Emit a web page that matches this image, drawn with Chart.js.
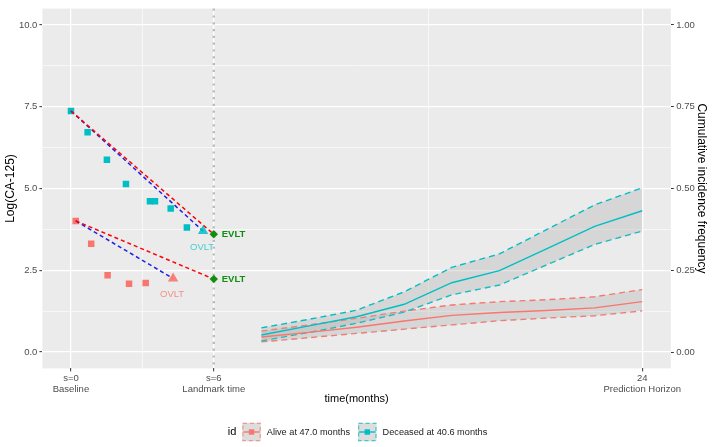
<!DOCTYPE html>
<html><head><meta charset="utf-8">
<script src="https://cdn.jsdelivr.net/npm/chart.js@4.4.1/dist/chart.umd.min.js"></script>
<style>html,body{margin:0;padding:0;background:#fff;}#wrap{width:712px;height:447px;}</style>
</head><body><div id="wrap"><canvas id="c" width="712" height="447"></canvas></div>
<script>
// ---------- data ----------
const seriesNames = ['Alive at 47.0 months', 'Deceased at 40.6 months'];
const legendTitle = 'id';
const landmarkTime = 6;

// observed log(CA-125) before landmark
const deceasedObsTime = [0.0, 0.70, 1.51, 2.31, 3.32, 3.53, 4.19, 4.87];
const deceasedObsLog  = [7.37, 6.72, 5.88, 5.14, 4.61, 4.61, 4.39, 3.81];
const aliveObsTime = [0.20, 0.85, 1.54, 2.44, 3.14];
const aliveObsLog  = [4.01, 3.31, 2.35, 2.09, 2.11];

// OVLT (observed last value) and EVLT (expected value at landmark): [alive, deceased]
const ovltTime = [4.29, 5.55];
const ovltLog  = [2.25, 3.70];
const evltLog  = [2.23, 3.60];

// predicted cumulative incidence after landmark
const predTime = [8, 10, 12, 14, 16, 18, 20, 22, 24];
const aliveCif   = [0.046, 0.060, 0.076, 0.095, 0.112, 0.121, 0.127, 0.135, 0.154];
const aliveUpper = [0.064, 0.083, 0.103, 0.125, 0.144, 0.154, 0.160, 0.169, 0.191];
const aliveLower = [0.031, 0.044, 0.057, 0.070, 0.083, 0.096, 0.104, 0.111, 0.126];
const deceasedCif   = [0.052, 0.080, 0.108, 0.146, 0.212, 0.249, 0.316, 0.384, 0.432];
const deceasedUpper = [0.074, 0.100, 0.128, 0.184, 0.259, 0.300, 0.375, 0.450, 0.502];
const deceasedLower = [0.034, 0.060, 0.088, 0.122, 0.175, 0.205, 0.267, 0.329, 0.370];

// axes
const xBreaks = [0, 6, 24];
const xBreakLabels = [['s=0', 'Baseline'], ['s=6', 'Landmark time'], ['24', 'Prediction Horizon']];
const xMinor = [3, 15];
const yBreaks = [0, 2.5, 5, 7.5, 10];
const yMinor = [1.25, 3.75, 6.25, 8.75];
const y2Breaks = [0, 0.25, 0.5, 0.75, 1];

// ---------- style ----------
const FONT = '"Liberation Sans", Arial, Helvetica, sans-serif';
const RED_S = '#F8766D', CYAN_S = '#00BFC4';
const SERIES_COL = [RED_S, CYAN_S];
const RIB = 'rgba(170,170,170,0.32)';
const PANEL_BG = '#EBEBEB';
const GREEN = '#0E8F0E';
Chart.defaults.font.family = FONT;

const xy = (xs, ys) => xs.map((x, i) => ({x: x, y: ys[i]}));
const two = (x0, y0, x1, y1) => [{x: x0, y: y0}, {x: x1, y: y1}];

const ci = (col, data, fill, order) => ({data, yAxisID: 'y2', borderColor: col, borderWidth: 1.4,
  borderDash: [6, 4], pointRadius: 0, fill: fill, backgroundColor: RIB, order});
const mid = (col, data, order) => ({data, yAxisID: 'y2', borderColor: col, borderWidth: 1.4, pointRadius: 0, fill: false, order});
const pts = (col, data, style, r, order) => ({data, yAxisID: 'y', showLine: false, pointStyle: style,
  pointRadius: r, pointBackgroundColor: col, pointBorderWidth: 0, borderColor: col, order});
const proj = (col, data, order) => ({data, yAxisID: 'y', borderColor: col, borderWidth: 1.5, borderDash: [4, 3],
  pointRadius: 0, fill: false, order});

const datasets = [
  ci(CYAN_S, xy(predTime, deceasedUpper), '+1', 30),
  ci(CYAN_S, xy(predTime, deceasedLower), false, 30),
  mid(CYAN_S, xy(predTime, deceasedCif), 25),
  ci(RED_S, xy(predTime, aliveUpper), '+1', 30),
  ci(RED_S, xy(predTime, aliveLower), false, 30),
  mid(RED_S, xy(predTime, aliveCif), 25),
  pts(CYAN_S, xy(deceasedObsTime, deceasedObsLog), 'rect', 4.6, 20),
  pts(RED_S, xy(aliveObsTime, aliveObsLog), 'rect', 4.6, 20),
  proj('#FF0000', two(deceasedObsTime[0], deceasedObsLog[0], landmarkTime, evltLog[1]), 15),
  proj('#1F1FE6', two(deceasedObsTime[0], deceasedObsLog[0], ovltTime[1], ovltLog[1]), 15),
  proj('#FF0000', two(aliveObsTime[0], aliveObsLog[0], landmarkTime, evltLog[0]), 15),
  proj('#1F1FE6', two(aliveObsTime[0], aliveObsLog[0], ovltTime[0], ovltLog[0]), 15),
  pts('rgba(0,191,196,0.85)', xy([ovltTime[1]], [ovltLog[1]]), 'triangle', 6, 10),
  pts('rgba(248,118,109,0.9)', xy([ovltTime[0]], [ovltLog[0]]), 'triangle', 6, 10),
  pts(GREEN, xy([landmarkTime, landmarkTime], evltLog), 'rectRot', 4.2, 5)
];

const isIn = (arr, v) => arr.some(a => Math.abs(a - v) < 1e-9);

const decor = {
  id: 'decor',
  beforeDraw(chart) {
    const {ctx, chartArea: a} = chart;
    ctx.save(); ctx.fillStyle = PANEL_BG;
    ctx.fillRect(a.left, a.top, a.right - a.left, a.bottom - a.top); ctx.restore();
  },
  beforeDatasetsDraw(chart) {
    const {ctx, chartArea: a, scales} = chart;
    const px = scales.x.getPixelForValue(landmarkTime);
    ctx.save(); ctx.strokeStyle = '#B8B8B8'; ctx.lineWidth = 2.2; ctx.setLineDash([2.2, 4.6]);
    ctx.beginPath(); ctx.moveTo(px, a.top); ctx.lineTo(px, a.bottom); ctx.stroke(); ctx.restore();
  },
  afterDatasetsDraw(chart) {
    const {ctx, scales} = chart;
    const X = scales.x, Y = scales.y;
    ctx.save();
    ctx.textBaseline = 'middle';
    const ovCol = ['rgba(248,118,109,0.8)', 'rgba(0,191,196,0.7)'];
    ctx.font = '9.5px ' + FONT; ctx.textAlign = 'center';
    for (let i = 0; i < 2; i++) {
      ctx.fillStyle = ovCol[i];
      ctx.fillText('OVLT', X.getPixelForValue(ovltTime[i]) - 1, Y.getPixelForValue(ovltLog[i]) + 16);
    }
    ctx.font = 'bold 9.5px ' + FONT; ctx.textAlign = 'left'; ctx.fillStyle = GREEN;
    for (let i = 0; i < 2; i++) {
      ctx.fillText('EVLT', X.getPixelForValue(landmarkTime) + 8, Y.getPixelForValue(evltLog[i]));
    }
    ctx.restore();
  },
  afterDraw(chart) {
    const ctx = chart.ctx;
    ctx.save();
    ctx.textBaseline = 'middle'; ctx.textAlign = 'left';
    const cy = 432, key = 18.5;
    ctx.font = '11px ' + FONT;
    const wT = ctx.measureText(legendTitle).width;
    ctx.font = '9.2px ' + FONT;
    const wL = seriesNames.map(s => ctx.measureText(s).width);
    const total = wT + 6 + key + 6 + wL[0] + 8 + key + 6 + wL[1];
    let x = 357.5 - total / 2;
    ctx.font = '11px ' + FONT; ctx.fillStyle = '#000';
    ctx.fillText(legendTitle, x, cy); x += wT + 6;
    for (let i = 0; i < 2; i++) {
      const col = SERIES_COL[i];
      ctx.fillStyle = '#DDDDDD';
      ctx.fillRect(x, cy - key / 2, key, key);
      ctx.strokeStyle = col; ctx.globalAlpha = 0.7; ctx.lineWidth = 1.2; ctx.setLineDash([4, 3]);
      ctx.strokeRect(x + 0.6, cy - key / 2 + 0.6, key - 1.2, key - 1.2);
      ctx.globalAlpha = 1; ctx.setLineDash([]);
      ctx.lineWidth = 1.4; ctx.beginPath(); ctx.moveTo(x + 1, cy); ctx.lineTo(x + key - 1, cy); ctx.stroke();
      ctx.fillStyle = col; ctx.fillRect(x + key / 2 - 2.7, cy - 2.7, 5.4, 5.4);
      x += key + 6;
      ctx.font = '9.2px ' + FONT; ctx.fillStyle = '#1A1A1A';
      ctx.fillText(seriesNames[i], x, cy);
      x += wL[i] + 8;
    }
    ctx.restore();
  }
};

new Chart(document.getElementById('c'), {
  type: 'line',
  data: {datasets},
  plugins: [decor],
  options: {
    responsive: false, animation: false, devicePixelRatio: 1, events: [],
    layout: {padding: {top: 8.6, left: 0, right: 0, bottom: 0}},
    plugins: {legend: {display: false}, tooltip: {enabled: false}},
    scales: {
      x: {
        type: 'linear', min: -1.2, max: 25.2,
        afterBuildTicks: s => { s.ticks = [...xBreaks, ...xMinor].sort((a, b) => a - b).map(v => ({value: v})); },
        afterFit: s => { s.height = 78.6; },
        ticks: {autoSkip: false, maxRotation: 0, padding: 1, color: '#4D4D4D', font: {size: 9.5},
          callback: v => { const k = xBreaks.indexOf(v); return k >= 0 ? xBreakLabels[k] : ''; }},
        grid: {color: '#FFFFFF', drawTicks: true, tickLength: 3, tickWidth: 1,
          lineWidth: c => (c.tick && isIn(xMinor, c.tick.value)) ? 0.6 : 1.3,
          tickColor: c => (c.tick && isIn(xMinor, c.tick.value)) ? 'rgba(0,0,0,0)' : '#333333'},
        border: {display: false},
        title: {display: true, text: 'time(months)', color: '#000', font: {size: 11}, padding: {top: 0, bottom: 41.4}}
      },
      y: {
        type: 'linear', position: 'left', min: -0.5, max: 10.5,
        afterBuildTicks: s => { s.ticks = [...yBreaks, ...yMinor].sort((a, b) => a - b).map(v => ({value: v})); },
        afterFit: s => { s.width = 42.4; },
        ticks: {autoSkip: false, padding: 2, color: '#4D4D4D', font: {size: 9.5},
          callback: v => isIn(yBreaks, v) ? v.toFixed(1) : ''},
        grid: {color: '#FFFFFF', drawTicks: true, tickLength: 3, tickWidth: 1,
          lineWidth: c => (c.tick && isIn(yMinor, c.tick.value)) ? 0.6 : 1.3,
          tickColor: c => (c.tick && isIn(yMinor, c.tick.value)) ? 'rgba(0,0,0,0)' : '#333333'},
        border: {display: false},
        title: {display: true, text: 'Log(CA-125)', color: '#000', font: {size: 12}, padding: {top: 3.3, bottom: 0}}
      },
      y2: {
        type: 'linear', position: 'right', min: -0.05, max: 1.05,
        afterBuildTicks: s => { s.ticks = y2Breaks.map(v => ({value: v})); },
        afterFit: s => { s.width = 41.2; },
        ticks: {autoSkip: false, padding: 2.5, color: '#4D4D4D', font: {size: 9.5}, callback: v => v.toFixed(2)},
        grid: {drawOnChartArea: false, drawTicks: true, tickLength: 3, tickWidth: 1, tickColor: '#333333', color: '#333333'},
        border: {display: false},
        title: {display: true, text: 'Cumulative incidence frequency', color: '#000', font: {size: 12}, padding: {top: 3.6, bottom: 0}}
      }
    }
  }
});
</script>
</body></html>
